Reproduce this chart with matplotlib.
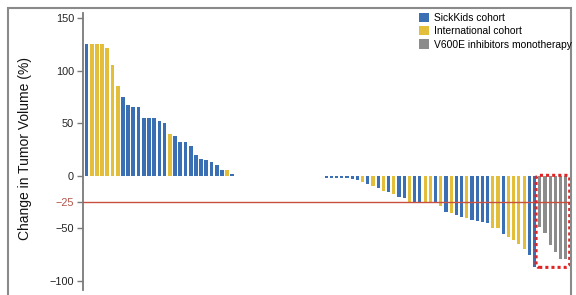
import numpy as np
import matplotlib
matplotlib.use("Agg")
import matplotlib.pyplot as plt
from matplotlib.patches import Patch, Rectangle, FancyBboxPatch

# ---------------- data ----------------
left_values = [125, 125, 125, 125, 122, 105, 85, 75, 67, 65, 65, 55, 55, 55, 52,
               50, 40, 38, 32, 32, 28, 20, 16, 15, 13, 10, 6, 6, 2]
left_cohorts = ["S", "I", "I", "I", "I", "I", "I", "S", "S", "S", "S", "S", "S", "S", "S",
                "S", "I", "S", "S", "S", "S", "S", "S", "S", "S", "S", "S", "I", "S"]

right_values = [-2.5, -2.5, -2.5, -2.5, -2.5, -3, -4,
                -5.5, -8, -10, -12, -14, -15.5, -17, -20, -21.5,
                -25, -26, -26, -26, -26, -26, -29, -34, -35, -37.5, -39.5, -40,
                -42, -43, -44, -45, -50, -50, -55, -58, -61, -65, -69.5, -75, -87,
                -49, -54, -66, -72, -79, -79]
right_cohorts = ["S", "S", "S", "S", "S", "S", "S",
                 "I", "S", "I", "S", "I", "S", "I", "S", "S",
                 "I", "S", "S", "I", "I", "S", "I", "S", "I", "S", "S", "I",
                 "S", "S", "S", "S", "I", "I", "S", "I", "I", "I", "I", "S", "S",
                 "V", "V", "V", "V", "V", "V"]
gap_count = 17  # empty positions between the two groups

cohort_names = {"S": "SickKids cohort", "I": "International cohort",
                "V": "V600E inhibitors monotherapy"}
cohort_colors = {"S": "#3b6fb4", "I": "#e2be3a", "V": "#8c8c8c"}

y_ticks = [150, 100, 50, 0, -25, -50, -100]
y_tick_labels = ["150", "100", "50", "0", "\u221225", "\u221250", "\u2212100"]
threshold = -25
y_label = "Change in Tumor Volume (%)"

# ---------------- figure ----------------
W, H = 576, 295
fig = plt.figure(figsize=(W / 100, H / 100), dpi=100)
ax = fig.add_axes([83 / W, 5 / H, (571 - 83) / W, (290 - 13) / H])

x_left = np.arange(len(left_values))
x_right = np.arange(len(right_values)) + len(left_values) + gap_count

ax.bar(x_left, left_values, width=0.72,
       color=[cohort_colors[c] for c in left_cohorts], linewidth=0)
ax.bar(x_right, right_values, width=0.6,
       color=[cohort_colors[c] for c in right_cohorts], linewidth=0)

ax.axhline(threshold, color="#c9503e", lw=1.0, zorder=3)

ax.set_xlim(-0.66, 93.0)
ax.set_ylim(-108.5, 154.8)

for s in ["top", "right", "bottom"]:
    ax.spines[s].set_visible(False)
ax.spines["left"].set_color("#7a7a7a")
ax.spines["left"].set_linewidth(1.3)
ax.set_xticks([])
ax.set_yticks(y_ticks)
ax.set_yticklabels(y_tick_labels, fontsize=7.8, family=["Liberation Sans", "DejaVu Sans"],
                   color="#222222")
ax.tick_params(axis="y", direction="out", length=4.5, width=1.0, color="#7a7a7a", pad=2)
for lab, t, tk in zip(ax.get_yticklabels(), y_ticks, ax.yaxis.get_major_ticks()):
    if t == threshold:
        lab.set_color("#b5534a")
        tk.tick1line.set_color("#c9503e")

fig.text(25 / W, 1 - 148 / H, y_label, rotation=90, ha="center", va="center",
         fontsize=10, family=["Liberation Sans Narrow", "Liberation Sans", "DejaVu Sans"],
         color="#111111")

# legend
handles = [Patch(facecolor=cohort_colors[k], edgecolor="none", label=cohort_names[k])
           for k in ["S", "I", "V"]]
leg = fig.legend(handles=handles, loc="upper left", bbox_to_anchor=(419 / W, 1 - 13 / H),
                 frameon=False, handlelength=1.0, handleheight=1.0,
                 handletextpad=0.45, labelspacing=0.3, borderpad=0, borderaxespad=0,
                 prop={"family": ["Liberation Sans", "DejaVu Sans"], "size": 7.4})

# dotted box around monotherapy bars
v_idx = [x for x, c in zip(x_right, right_cohorts) if c == "V"]
v_vals = [v for v, c in zip(right_values, right_cohorts) if c == "V"]
bx0 = min(v_idx) - 0.7
bx1 = max(v_idx) + 0.75
by0 = min(v_vals) - 8
by1 = 0.5
box = FancyBboxPatch((bx0, by0), bx1 - bx0, by1 - by0,
                     boxstyle="round,pad=0,rounding_size=0.6", mutation_aspect=5,
                     fill=False, edgecolor="#e02424", linewidth=2.2,
                     linestyle=(0, (1, 1.0)), zorder=4, clip_on=False)
ax.add_patch(box)

# outer frame
fig.patches.append(Rectangle((8 / W, -0.05), (571 - 8) / W, 1.05 - 8 / H,
                             transform=fig.transFigure, fill=False,
                             edgecolor="#8a8a8a", linewidth=1.5))

fig.savefig("out.png", dpi=100)
